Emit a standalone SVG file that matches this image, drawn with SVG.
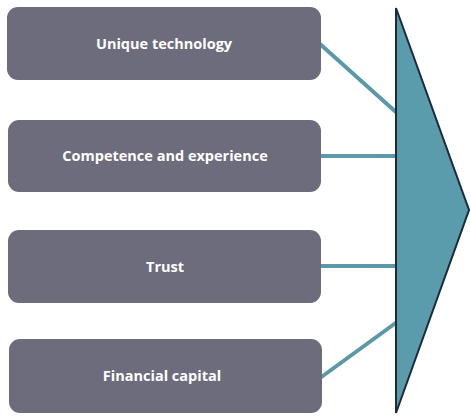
<svg xmlns="http://www.w3.org/2000/svg" width="470" height="416" viewBox="0 0 470 416">
  <style>
    .box { fill: #6d6c7c; }
    .label { fill: #ffffff; font-family: "Open Sans", "Noto Sans", sans-serif; font-weight: bold; font-size: 14.5px; text-anchor: middle; dominant-baseline: central; }
    .link { stroke: #5b99a8; stroke-width: 4; fill: none; }
  </style>
  <rect width="470" height="416" fill="#ffffff"/>

  <g id="connectors">
    <line class="link" x1="320" y1="44" x2="397" y2="113"/>
    <line class="link" x1="320" y1="156" x2="397" y2="156"/>
    <line class="link" x1="320" y1="266" x2="397" y2="266"/>
    <line class="link" x1="320" y1="378" x2="397" y2="322"/>
  </g>

  <g id="arrow">
    <polygon points="396,8 469,210 396,413" fill="#5a9bac" stroke="#1c2a3a" stroke-width="2" stroke-linejoin="miter"/>
  </g>

  <g id="node-technology">
    <rect class="box" x="7" y="7" width="314" height="73" rx="11"/>
    <text class="label" x="164" y="43">Unique technology</text>
  </g>
  <g id="node-competence">
    <rect class="box" x="8" y="120" width="313" height="72" rx="11"/>
    <text class="label" x="165" y="155">Competence and experience</text>
  </g>
  <g id="node-trust">
    <rect class="box" x="8" y="230" width="313" height="73" rx="11"/>
    <text class="label" x="165" y="266">Trust</text>
  </g>
  <g id="node-capital">
    <rect class="box" x="9" y="339" width="313" height="74" rx="11"/>
    <text class="label" x="162" y="375">Financial capital</text>
  </g>
</svg>
